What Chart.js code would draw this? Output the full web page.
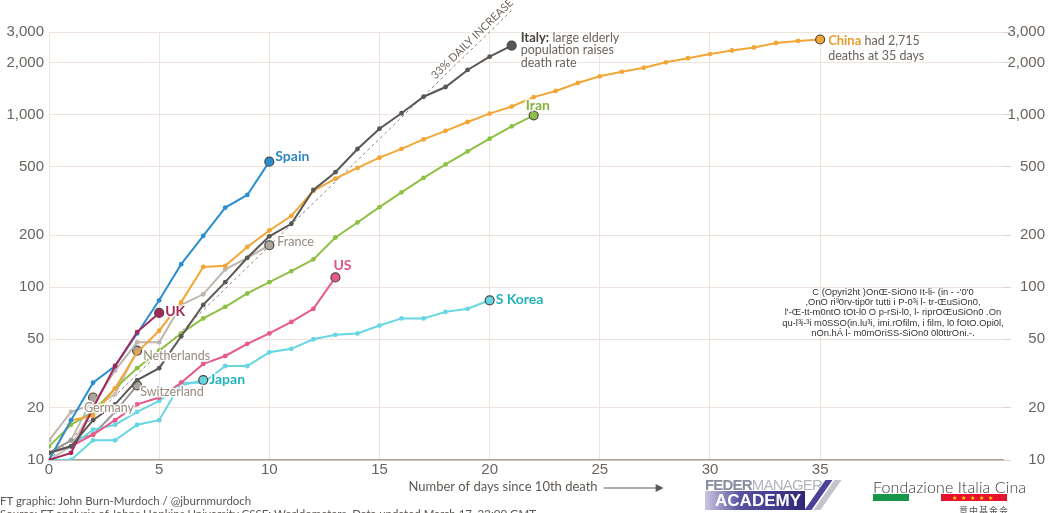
<!DOCTYPE html>
<html>
<head>
<meta charset="utf-8">
<script src="https://cdn.jsdelivr.net/npm/chart.js"></script>
<style>
  html, body { margin: 0; padding: 0; background: #fff; overflow: hidden; }
  #wrap { position: relative; width: 1048px; height: 513px; font-family: Lato, "Open Sans", sans-serif; }
  #chart { position: absolute; left: 0; top: 0; }
  .note { position: absolute; white-space: nowrap; }
  #credit { left: 0; top: 494px; font-size: 11.5px; color: #5a5652; }
  #source { left: 0; top: 507px; font-size: 11.5px; color: #5a5652; }
  #copy { left: 768px; top: 287px; width: 250px; text-align: center; font: 9.4px/10.2px "Liberation Sans", Arial, sans-serif; color: #333; white-space: normal; }
  #fm { left: 703px; top: 476px; width: 140px; height: 36px; }
  #fm .t { position: absolute; left: 2px; top: 0; font: 15px "Liberation Sans", Arial, sans-serif; letter-spacing: -0.8px; }
  #fm .bar { position: absolute; left: 2px; top: 15px; width: 100px; height: 19px;
             background: linear-gradient(90deg, #c9c6df 0%, #5a52a0 35%, #2e2878 100%);
             color: #fff; font: bold 17px "Liberation Sans", Arial, sans-serif; text-align: right; line-height: 19px; padding-right: 4px; box-sizing: border-box; }
  #fm .s { position: absolute; top: 4px; width: 7px; height: 30px; transform: skewX(-35deg); }
  #fic { left: 873px; top: 477px; width: 140px; height: 36px; }
  #fic .t { position: absolute; left: 0; top: 0; font: 300 16px Lato, sans-serif; color: #3a3a3a; letter-spacing: 0.1px; }
  #fic .g { position: absolute; left: 0; top: 17px; width: 36px; height: 7px; background: #17964a; }
  #fic .r { position: absolute; left: 68px; top: 17px; width: 66px; height: 7px; background: #e8122d; color: #ffd800; font-size: 6px; line-height: 7px; text-align: center; letter-spacing: 4px; }
  #fic .c { position: absolute; left: 86px; top: 27px; font: 9px "Noto Sans CJK SC", sans-serif; color: #555; letter-spacing: 1px; }
</style>
</head>
<body>
<div id="wrap">
  <canvas id="chart" width="1048" height="513"></canvas>
  <div class="note" id="credit">FT graphic: John Burn-Murdoch / @jburnmurdoch</div>
  <div class="note" id="source">Source: FT analysis of Johns Hopkins University CSSE; Worldometers. Data updated March 17, 23:00 GMT</div>
  <div class="note" id="copy">C (Opyri2ht )OnŒ-SiOn0 It-li- (in - -'0'0<br>,OnO ri³0rv-tip0r tutti i P-0³i l- tr-ŒuSiOn0,<br>l'-Œ-tt-m0ntO tOt-l0 O p-rSi-l0, l- riprOŒuSiOn0 .On<br>qu-l³i-³i m0SSO(in.lu³i, imi.rOfilm, i film, l0 fOtO.Opi0l,<br>nOn.hÁ l- m0mOriSS-SiOn0 0l0ttrOni.-.</div>
  <div class="note" id="fm">
    <div class="t"><span style="color:#8c8ca0;font-weight:bold">FEDER</span><span style="color:#b4b4c2">MANAGER</span></div>
    <div class="bar">ACADEMY</div>
    <div class="s" style="left:112px;background:#4b4196"></div>
    <div class="s" style="left:121px;background:#c4c4cc"></div>
  </div>
  <div class="note" id="fic">
    <div class="t">Fondazione Italia Cina</div>
    <div class="g"></div>
    <div class="r">★★★★★</div>
    <div class="c">意中基金会</div>
  </div>
</div>
<script>
// deaths by day since the 10th death
const china = [10, 17, 18, 26, 42, 56, 82, 131, 133, 171, 213, 259, 361, 425, 490, 562, 632, 717, 804, 904, 1011, 1111, 1260, 1368, 1520, 1662, 1765, 1863, 2002, 2114, 2236, 2345, 2442, 2592, 2663, 2715];
const italy = [11, 12, 17, 21, 29, 34, 52, 79, 107, 148, 197, 233, 366, 463, 631, 827, 1016, 1266, 1441, 1809, 2158, 2503];
const iran = [12, 16, 19, 26, 34, 43, 54, 66, 77, 92, 107, 124, 145, 194, 237, 291, 354, 429, 514, 611, 724, 853, 988];
const spain = [10, 17, 28, 35, 54, 84, 136, 198, 289, 342, 533];
const france = [13, 19, 21, 33, 48, 48, 79, 91, 127, 148, 175];
const uk = [10, 11, 20, 35, 55, 71];
const us = [11, 12, 14, 17, 21, 23, 28, 36, 40, 47, 54, 63, 75, 114];
const skorea = [10, 10, 13, 13, 16, 17, 28, 28, 35, 35, 42, 44, 50, 53, 54, 60, 66, 66, 72, 75, 84];
const japan = [11, 12, 15, 16, 19, 22, 27, 29];
const netherlands = [10, 12, 20, 24, 43];
const switzerland = [11, 13, 14, 19, 27];
const germany = [11, 13, 23];
// 33% daily increase guide: start and end
const guideDays = [0, 21];
const guideValues = [10, 4000];

const yTicks = [10, 20, 50, 100, 200, 500, 1000, 2000, 3000];
const xTicks = [0, 5, 10, 15, 20, 25, 30, 35];

const grid = '#efe4dd';
const tickColor = '#6a645f';
const noteGrey = '#978a7e';

function pts(arr) { return arr.map((v, i) => ({ x: i, y: v })); }

function series(arr, color, order, label, endFill) {
  const last = arr.length - 1;
  return {
    data: pts(arr),
    borderColor: color,
    backgroundColor: color,
    borderWidth: 2,
    order: order,
    pointRadius: c => c.dataIndex === last ? 4.5 : 2.4,
    pointBorderWidth: c => c.dataIndex === last ? 1.2 : 0,
    pointBorderColor: '#4a4644',
    pointBackgroundColor: c => c.dataIndex === last ? (endFill || color) : color,
    endLabel: label
  };
}

const B = (t, color, size) => ({ t, color, font: 'bold ' + (size || 14) + 'px Lato' });
const N = (t, color, size) => ({ t, color, font: (size || 12.5) + 'px Lato' });

const datasets = [
  series(italy, '#5a5856', 1, { dx: 9, dy: -8, lh: 12.5, lines: [[B('Italy:', '#47433f', 13), N(' large elderly', '#6b635d')], [N('population raises', '#6b635d')], [N('death rate', '#6b635d')]] }),
  series(uk, '#a3285a', 2, { dx: 6, dy: -1, lines: [[B('UK', '#a3285a')]] }),
  series(spain, '#2a8fd0', 3, { dx: 6, dy: -5, lines: [[B('Spain', '#2e86c1')]] }),
  series(china, '#f2a637', 4, { dx: 8, dy: 1, lh: 15, lines: [[B('China', '#e69b2e', 13), N(' had 2,715', '#6b635d')], [N('deaths at 35 days', '#6b635d')]] }),
  series(iran, '#8fc046', 5, { dx: -8, dy: -10, lines: [[B('Iran', '#86b23c')]] }),
  series(us, '#e8588a', 6, { dx: -2, dy: -12, lines: [[B('US', '#e0548a')]] }),
  series(japan, '#66d6e3', 7, { dx: 6, dy: -1, lines: [[B('Japan', '#22b3bd')]] }),
  series(skorea, '#66d6e3', 8, { dx: 6, dy: -1, lines: [[B('S Korea', '#22b3bd')]] }),
  series(france, '#bdb5ad', 9, { dx: 8, dy: -3, lines: [[N('France', noteGrey)]] }, '#aaa39c'),
  series(netherlands, '#c9c1b9', 10, { dx: 6, dy: 5, lines: [[N('Netherlands', noteGrey)]] }, '#aaa39c'),
  series(switzerland, '#9c9690', 11, { dx: 3, dy: 7, lines: [[N('Switzerland', noteGrey)]] }, '#aaa39c'),
  series(germany, '#c4bdb6', 12, { dx: -9, dy: 10, lines: [[N('Germany', noteGrey)]] }, '#aaa39c'),
  {
    data: guideDays.map((d, i) => ({ x: d, y: guideValues[i] })),
    borderColor: '#8a8480',
    borderWidth: 1,
    borderDash: [3, 3],
    pointRadius: 0,
    order: 20,
    clip: false,
    guide: true
  }
];

const labelsPlugin = {
  id: 'labels',
  afterDatasetsDraw(chart) {
    const ctx = chart.ctx;
    ctx.save();
    ctx.textBaseline = 'middle';
    ctx.textAlign = 'left';
    ctx.lineJoin = 'round';
    chart.data.datasets.forEach((ds, i) => {
      const meta = chart.getDatasetMeta(i);
      if (ds.guide) {
        const p0 = meta.data[0], p1 = meta.data[1];
        const a = Math.atan2(p1.y - p0.y, p1.x - p0.x);
        const t = 0.925;
        const cx = p0.x + (p1.x - p0.x) * t + Math.sin(a) * 7;
        const cy = p0.y + (p1.y - p0.y) * t - Math.cos(a) * 7;
        ctx.save();
        ctx.translate(cx, cy);
        ctx.rotate(a);
        ctx.textAlign = 'center';
        ctx.font = '11px Lato';
        ctx.lineWidth = 3;
        ctx.strokeStyle = '#fff';
        ctx.strokeText('33% DAILY INCREASE', 0, 0);
        ctx.fillStyle = '#6e655e';
        ctx.fillText('33% DAILY INCREASE', 0, 0);
        ctx.restore();
        return;
      }
      const lab = ds.endLabel;
      if (!lab) return;
      const pt = meta.data[meta.data.length - 1];
      let y = pt.y + lab.dy;
      lab.lines.forEach(line => {
        let x = pt.x + lab.dx;
        line.forEach(p => {
          ctx.font = p.font;
          ctx.lineWidth = 3;
          ctx.strokeStyle = 'rgba(255,255,255,0.9)';
          ctx.strokeText(p.t, x, y);
          ctx.fillStyle = p.color;
          ctx.fillText(p.t, x, y);
          x += ctx.measureText(p.t).width;
        });
        y += lab.lh || 14;
      });
    });
    ctx.restore();
  },
  afterDraw(chart) {
    // x axis title with arrow
    const ctx = chart.ctx;
    const area = chart.chartArea;
    const text = 'Number of days since 10th death';
    ctx.save();
    ctx.font = '13px Lato';
    const w = ctx.measureText(text).width;
    const arrow = 60;
    const total = w + 6 + arrow;
    const x0 = (area.left + area.right) / 2 + 10 - total / 2;
    const y = area.bottom + 27;
    ctx.fillStyle = '#5f5953';
    ctx.textBaseline = 'middle';
    ctx.fillText(text, x0, y);
    const ax = x0 + w + 6;
    ctx.strokeStyle = '#5f5953';
    ctx.lineWidth = 1.2;
    ctx.beginPath();
    ctx.moveTo(ax, y + 1);
    ctx.lineTo(ax + arrow - 6, y + 1);
    ctx.stroke();
    ctx.beginPath();
    ctx.moveTo(ax + arrow, y + 1);
    ctx.lineTo(ax + arrow - 8, y - 3);
    ctx.lineTo(ax + arrow - 8, y + 5);
    ctx.closePath();
    ctx.fill();
    ctx.restore();
  }
};

const yCommon = {
  type: 'logarithmic',
  min: 10,
  max: 3000,
  afterBuildTicks: s => { s.ticks = yTicks.map(v => ({ value: v })); },
  border: { display: false }
};

new Chart(document.getElementById('chart'), {
  type: 'line',
  data: { datasets: datasets },
  options: {
    responsive: false,
    animation: false,
    layout: { padding: { top: 32, left: 0, right: 3, bottom: 0 } },
    plugins: { legend: { display: false }, tooltip: { enabled: false } },
    scales: {
      x: {
        type: 'linear',
        min: 0,
        max: 43.3,
        afterBuildTicks: s => { s.ticks = xTicks.map(v => ({ value: v })); },
        afterFit: s => { s.height = 53; },
        grid: { color: grid, drawTicks: false },
        border: { display: true, color: '#a9a39e', width: 1.5 },
        ticks: { color: tickColor, font: { size: 15 }, padding: 1, maxRotation: 0 }
      },
      y: Object.assign({}, yCommon, {
        position: 'left',
        afterFit: s => { s.width = 49; },
        grid: { color: grid, drawTicks: false },
        ticks: { color: tickColor, font: { size: 15 }, padding: 5, callback: v => v.toLocaleString('en-US') }
      }),
      y2: Object.assign({}, yCommon, {
        position: 'right',
        afterFit: s => { s.width = 42; },
        grid: { color: grid, drawOnChartArea: false, drawTicks: true, tickLength: 8, tickColor: '#dcd3cc' },
        ticks: { color: tickColor, font: { size: 15 }, padding: 2, crossAlign: 'far', callback: v => v.toLocaleString('en-US') }
      })
    }
  },
  plugins: [labelsPlugin]
});
</script>
</body>
</html>
